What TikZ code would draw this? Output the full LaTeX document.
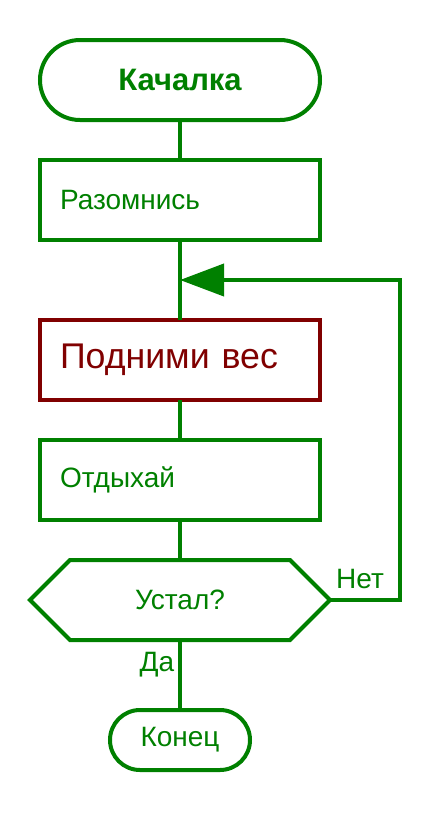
\documentclass[tikz,border=0pt]{standalone}
\usepackage{fontspec}
\setmainfont{Liberation Sans}
\usetikzlibrary{arrows.meta}
\definecolor{fgreen}{RGB}{0,128,0}
\definecolor{fred}{RGB}{128,0,0}
\tikzset{
  base/.style={draw=fgreen, line width=4pt, text=fgreen, font=\fontsize{28}{33}\selectfont, inner sep=0pt, outer sep=0pt},
  term/.style={base, minimum height=80pt, minimum width=280pt, rounded corners=40pt},
  procbox/.style={base, minimum height=80pt, text width=240pt, inner xsep=20pt, align=left},
  conn/.style={draw=fgreen, line width=4pt},
  lbl/.style={text=fgreen, font=\fontsize{28}{33}\selectfont, inner sep=0pt}
}
\begin{document}
\begin{tikzpicture}[x=1pt,y=-1pt]
\useasboundingbox (0,0) rectangle (440,820);
\node[term, font=\bfseries\fontsize{31}{37}\selectfont] (start) at (180,80) {Качалка};
\node[procbox] (b1) at (180,200) {Разомнись};
\node[procbox, draw=fred, text=fred, font=\fontsize{35.7}{42}\selectfont] (b2) at (180,360) {\raisebox{-1.5pt}{Подними вес}};
\node[procbox] (b3) at (180,480) {Отдыхай};
\node[base, draw=none, minimum width=300pt, minimum height=80pt] (dec) at (180,600) {Устал?};
\draw[conn, line join=miter] ([xshift=40pt]dec.north west) -- ([xshift=-40pt]dec.north east) -- (dec.east) -- ([xshift=-40pt]dec.south east) -- ([xshift=40pt]dec.south west) -- (dec.west) -- cycle;
\node[term, minimum width=140pt, minimum height=60pt, rounded corners=30pt] (end) at (180,740) {Конец};
\coordinate (j) at (180,280);
\node[lbl] (no) at (360,579) {Нет};
\node[lbl] (yes) at (157,665) {Да};
\draw[conn] (start) -- (b1);
\draw[conn] (b1) -- (b2);
\draw[conn] (b2) -- (b3);
\draw[conn] (b3) -- (dec);
\draw[conn] (dec) -- (end);
\draw[conn, line join=miter, -{Triangle[length=44pt,width=32pt]}] (dec.east) -- ++(70,0) |- (j);
\end{tikzpicture}
\end{document}
